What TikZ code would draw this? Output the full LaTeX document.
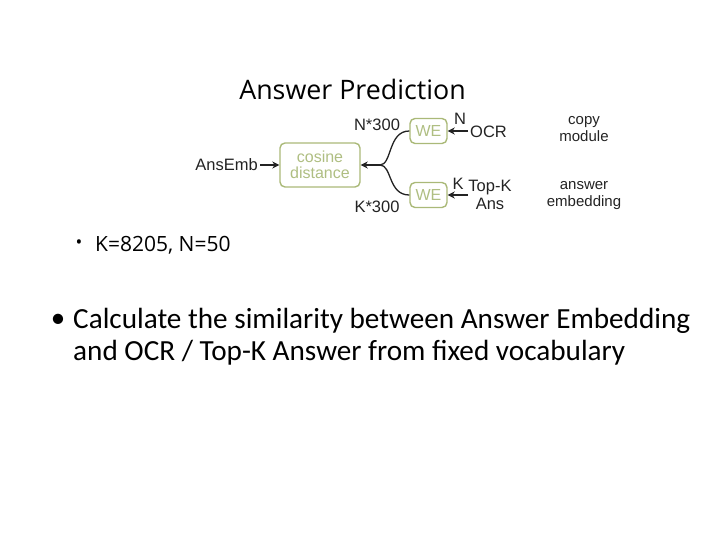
\documentclass[tikz,border=0pt]{standalone}
\usepackage{fontspec}
\setmainfont{Carlito}
\newfontfamily\titlefont{Open Sans}
\newfontfamily\labfont{Liberation Sans}
\usetikzlibrary{arrows.meta}
\definecolor{boxgreen}{RGB}{170,185,120}
\definecolor{boxtext}{RGB}{175,190,130}
\definecolor{ink}{RGB}{35,35,35}
\begin{document}
\begin{tikzpicture}[x=1pt,y=-1pt,
  gbox/.style={draw=boxgreen,line width=1.4pt,rounded corners=5pt,text=boxtext,font=\labfont\fontsize{16}{16.5}\selectfont,align=center,inner sep=0pt},
  lab/.style={font=\labfont\fontsize{16.5}{18}\selectfont,text=ink,inner sep=0pt},
  side/.style={font=\labfont\fontsize{15}{17}\selectfont,text=ink,inner sep=0pt,align=center},
  arr/.style={-{Stealth[length=7pt,width=7pt]},line width=1.3pt,draw=ink},
  curve/.style={line width=1.3pt,draw=ink}]
\useasboundingbox (0,0) rectangle (720,540);
\node[font=\titlefont\fontsize{26.8}{30}\selectfont,text=black,inner sep=0pt] (title) at (352.5,89) {Answer Prediction};
% boxes
\node[gbox,minimum width=80pt,minimum height=44pt] (cos) at (320,165) {cosine\\distance};
\node[gbox,minimum width=37pt,minimum height=25pt] (we1) at (428.5,131) {WE};
\node[gbox,minimum width=37pt,minimum height=25pt] (we2) at (428.5,195) {WE};
% labels
\node[lab,anchor=east] (ansemb) at (258,165) {AnsEmb};
\node[lab] (n300) at (377,125) {N*300};
\node[lab] (k300) at (377,207) {K*300};
\node[lab] (nl) at (460,119) {N};
\node[lab] (kl) at (458,184) {K};
\node[lab,anchor=west] (ocr) at (470,132) {OCR};
\node[lab,align=center] (topk) at (490,195) {Top-K\\Ans};
\node[side] (copy) at (584,129) {copy\\module};
\node[side] (ansemb2) at (584,196) {answer\\embedding};
% branch point
\coordinate (bp) at (380,165);
\coordinate (ocrin) at (468,131);
\coordinate (topin) at (468,195);
% arrows
\draw[arr] (ansemb.east) ++(2,0) -- (cos.west);
\draw[arr] (bp) -- (cos.east);
\draw[curve] (bp) .. controls (392,165) and (388,131) .. (we1.west);
\draw[curve] (bp) .. controls (392,165) and (388,195) .. (we2.west);
\draw[arr] (ocrin) -- (we1.east);
\draw[arr] (topin) -- (we2.east);
% bullets
\node[font=\titlefont\fontsize{18}{20}\selectfont,inner sep=0pt] (b1) at (79,244) {•};
\node[font=\titlefont\fontsize{21}{24}\selectfont,anchor=west,inner sep=0pt] (kn) at (95,245) {K=8205, N=50};
\node[font=\fontsize{29}{32}\selectfont,inner sep=0pt] (b2) at (58,321) {•};
\node[font=\fontsize{29.2}{32}\selectfont,anchor=west,inner sep=0pt] (l1) at (73,321) {Calculate the similarity between Answer Embedding};
\node[font=\fontsize{29.2}{32}\selectfont,anchor=west,inner sep=0pt] (l2) at (73,353) {and OCR / Top-K Answer from fixed vocabulary};
\end{tikzpicture}
\end{document}
